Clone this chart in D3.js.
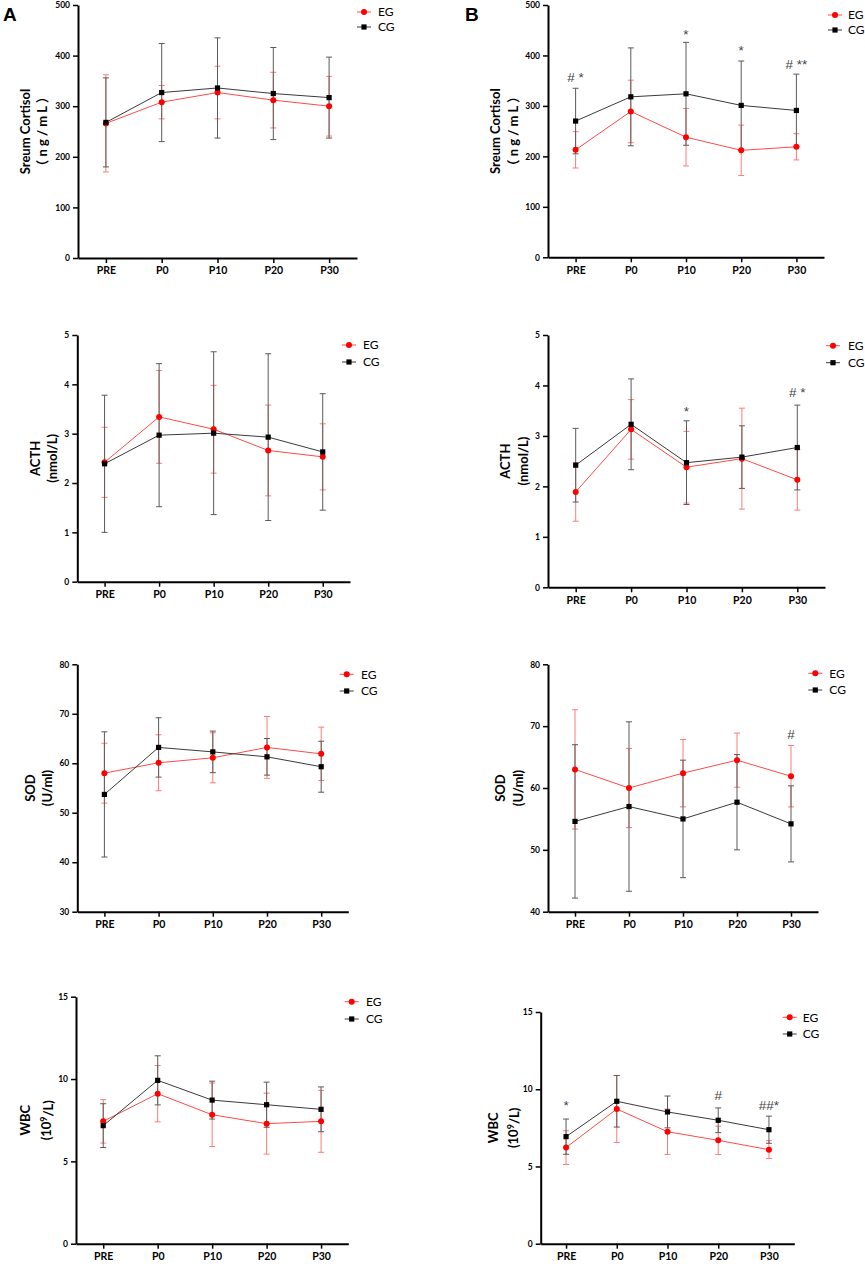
<!DOCTYPE html>
<html>
<head>
<meta charset="utf-8">
<script src="https://cdn.jsdelivr.net/npm/d3@7"></script>
<style>
  body { margin: 0; background: #fff; }
  svg { display: block; }
  .tick text { font-family: Lato, "Noto Sans", sans-serif; font-weight: bold; fill: #000; }
  .axis path, .axis line { stroke: #000; }
</style>
</head>
<body>
<svg id="chart" width="865" height="1264"></svg>
<script>
// time points and groups
var timePoints = ["PRE", "P0", "P10", "P20", "P30"];
var groupNames = ["EG", "CG"];

// serum cortisol (ng/mL), mean and SD
var cortisolA_EG = [266, 308, 327, 312, 300];
var cortisolA_EG_sd = [96, 33, 52, 55, 59];
var cortisolA_CG = [268, 327, 336, 325, 317];
var cortisolA_CG_sd = [88, 97, 99, 91, 80];
var cortisolB_EG = [213, 289, 238, 212, 219];
var cortisolB_EG_sd = [36, 62, 57, 50, 26];
var cortisolB_CG = [270, 318, 324, 301, 291];
var cortisolB_CG_sd = [65, 97, 102, 88, 72];

// ACTH (nmol/L)
var acthA_EG = [2.42, 3.34, 3.09, 2.66, 2.53];
var acthA_EG_sd = [0.71, 0.94, 0.89, 0.92, 0.67];
var acthA_CG = [2.39, 2.97, 3.01, 2.93, 2.63];
var acthA_CG_sd = [1.39, 1.45, 1.65, 1.69, 1.18];
var acthB_EG = [1.89, 3.13, 2.38, 2.55, 2.13];
var acthB_EG_sd = [0.58, 0.59, 0.71, 1.0, 0.6];
var acthB_CG = [2.42, 3.23, 2.47, 2.58, 2.77];
var acthB_CG_sd = [0.73, 0.9, 0.83, 0.62, 0.84];

// SOD (U/ml)
var sodA_EG = [58.0, 60.1, 61.1, 63.2, 61.9];
var sodA_EG_sd = [6.05, 5.65, 5.05, 6.25, 5.4];
var sodA_CG = [53.7, 63.2, 62.3, 61.3, 59.3];
var sodA_CG_sd = [12.65, 6.0, 4.2, 3.7, 5.15];
var sodB_EG = [63.0, 60.0, 62.4, 64.5, 61.9];
var sodB_EG_sd = [9.65, 6.4, 5.45, 4.37, 4.96];
var sodB_CG = [54.6, 57.0, 55.0, 57.7, 54.2];
var sodB_CG_sd = [12.4, 13.7, 9.5, 7.7, 6.15];

// WBC (10^9/L)
var wbcA_EG = [7.43, 9.11, 7.83, 7.29, 7.43];
var wbcA_EG_sd = [1.32, 1.71, 1.93, 1.85, 1.88];
var wbcA_CG = [7.17, 9.92, 8.72, 8.44, 8.16];
var wbcA_CG_sd = [1.33, 1.49, 1.15, 1.37, 1.36];
var wbcB_EG = [6.22, 8.72, 7.25, 6.69, 6.09];
var wbcB_EG_sd = [1.09, 2.17, 1.47, 0.92, 0.58];
var wbcB_CG = [6.93, 9.22, 8.53, 7.99, 7.38];
var wbcB_CG_sd = [1.14, 1.67, 1.03, 0.8, 0.88];

// significance marks: [time point, label, value where the mark sits]
var cortisolB_marks = [["PRE", "# *", 358], ["P10", "*", 444], ["P20", "*", 411], ["P30", "# **", 383]];
var acthB_marks = [["P10", "*", 3.5], ["P30", "# *", 3.88]];
var sodB_marks = [["P30", "#", 68.8]];
var wbcB_marks = [["PRE", "*", 9.0], ["P20", "#", 9.63], ["P30", "##*", 8.98]];

// y axis ticks
var cortisolTicks = [0, 100, 200, 300, 400, 500];
var acthTicks = [0, 1, 2, 3, 4, 5];
var sodTicksA = [30, 40, 50, 60, 70, 80];
var sodTicksB = [40, 50, 60, 70, 80];
var wbcTicks = [0, 5, 10, 15];

var cortisolTitle = ["Sreum Cortisol", "（ n g / m L ）"];
var acthTitle = ["ACTH", "(nmol/L)"];
var sodTitle = ["SOD", "(U/ml)"];
var wbcTitle = ["WBC", "(10", "9", "/L)"];

var red = "#ff0000";
var black = "#000000";

var svg = d3.select("#chart");

// panel layouts (pixel boxes), data looked up from arrays above
var panels = [
    {x0: 78, x1: 357, top: 5, bottom: 258, ticks: cortisolTicks, title: cortisolTitle, t1: 25, t2: 42,
     eg: cortisolA_EG, egSd: cortisolA_EG_sd, cg: cortisolA_CG, cgSd: cortisolA_CG_sd, marks: [], leg: [364, 12, 27, 378]},
    {x0: 548, x1: 824, top: 5, bottom: 257.3, ticks: cortisolTicks, title: cortisolTitle, t1: 495, t2: 513,
     eg: cortisolB_EG, egSd: cortisolB_EG_sd, cg: cortisolB_CG, cgSd: cortisolB_CG_sd, marks: cortisolB_marks, leg: [835, 15, 30, 848]},
    {x0: 77.3, x1: 350, top: 335, bottom: 581.7, ticks: acthTicks, title: acthTitle, t1: 35, t2: 52.7,
     eg: acthA_EG, egSd: acthA_EG_sd, cg: acthA_CG, cgSd: acthA_CG_sd, marks: [], leg: [349, 345, 362, 363]},
    {x0: 548, x1: 825, top: 335, bottom: 587.3, ticks: acthTicks, title: acthTitle, t1: 505, t2: 523,
     eg: acthB_EG, egSd: acthB_EG_sd, cg: acthB_CG, cgSd: acthB_CG_sd, marks: acthB_marks, leg: [833, 345.7, 362.7, 848]},
    {x0: 77.3, x1: 348.3, top: 664.3, bottom: 911.7, ticks: sodTicksA, title: sodTitle, t1: 30, t2: 47.7,
     eg: sodA_EG, egSd: sodA_EG_sd, cg: sodA_CG, cgSd: sodA_CG_sd, marks: [], leg: [346.7, 674.3, 691, 361]},
    {x0: 548, x1: 818, top: 664.3, bottom: 911.7, ticks: sodTicksB, title: sodTitle, t1: 500.3, t2: 518.7,
     eg: sodB_EG, egSd: sodB_EG_sd, cg: sodB_CG, cgSd: sodB_CG_sd, marks: sodB_marks, leg: [815.3, 673.3, 690, 829.3]},
    {x0: 76, x1: 348.3, top: 996.7, bottom: 1243.7, ticks: wbcTicks, title: wbcTitle, t1: 25, t2: 46.7,
     eg: wbcA_EG, egSd: wbcA_EG_sd, cg: wbcA_CG, cgSd: wbcA_CG_sd, marks: [], leg: [351.7, 1001.7, 1019, 366]},
    {x0: 540.7, x1: 794.3, top: 1012, bottom: 1243.7, ticks: wbcTicks, title: wbcTitle, t1: 493, t2: 513,
     eg: wbcB_EG, egSd: wbcB_EG_sd, cg: wbcB_CG, cgSd: wbcB_CG_sd, marks: wbcB_marks, leg: [789.7, 1017.3, 1034, 802.7]}
];

function drawPanel(p) {
    var g = svg.append("g");
    var x = d3.scalePoint().domain(timePoints).range([p.x0, p.x1]).padding(0.5);
    var y = d3.scaleLinear().domain(d3.extent(p.ticks)).range([p.bottom, p.top]);

    // axes
    var yAxis = g.append("g").attr("class", "axis")
        .attr("transform", "translate(" + p.x0 + ",0)")
        .call(d3.axisLeft(y).tickValues(p.ticks).tickFormat(d3.format("d"))
            .tickSize(5).tickSizeOuter(0).tickPadding(3));
    yAxis.selectAll("text").style("font-size", "8.5px");
    yAxis.select(".domain").attr("stroke-width", 2);
    yAxis.selectAll(".tick line").attr("stroke-width", 1.5);

    var xAxis = g.append("g").attr("class", "axis")
        .attr("transform", "translate(0," + p.bottom + ")")
        .call(d3.axisBottom(x).tickSize(5).tickSizeOuter(0).tickPadding(4));
    xAxis.selectAll("text").style("font-size", "10.5px");
    xAxis.select(".domain").attr("stroke-width", 2);
    xAxis.selectAll(".tick line").attr("stroke-width", 1.5);

    // y title
    var cy = (p.top + p.bottom) / 2;
    g.append("text")
        .attr("transform", "translate(" + p.t1 + "," + cy + ") rotate(-90)")
        .attr("text-anchor", "middle").attr("dy", "0.36em")
        .style("font-family", "Lato, 'Noto Sans', sans-serif").style("font-weight", "bold").style("font-size", "13px")
        .text(p.title[0]);
    var t2 = g.append("text")
        .attr("transform", "translate(" + p.t2 + "," + cy + ") rotate(-90)")
        .attr("text-anchor", "middle").attr("dy", "0.36em")
        .style("font-family", "Lato, 'Noto Sans CJK SC', sans-serif").style("font-weight", "bold").style("font-size", "13px");
    if (p.title.length > 2) {
        t2.append("tspan").text(p.title[1]);
        t2.append("tspan").attr("dy", "-0.45em").style("font-size", "9px").text(p.title[2]);
        t2.append("tspan").attr("dy", "0.45em").text(p.title[3]);
    } else {
        t2.text(p.title[1]);
    }

    var series = [
        {name: groupNames[0], mean: p.eg, sd: p.egSd, color: red, line: "#ff4a4a", err: "#ff7a7a"},
        {name: groupNames[1], mean: p.cg, sd: p.cgSd, color: black, line: "#3a3a3a", err: "#5a5a5a"}
    ];

    // error bars
    series.forEach(function (s) {
        var eb = g.append("g").attr("stroke", s.err).attr("stroke-width", 1).attr("fill", "none");
        timePoints.forEach(function (t, i) {
            var cx = x(t);
            var yHi = y(s.mean[i] + s.sd[i]);
            var yLo = y(s.mean[i] - s.sd[i]);
            eb.append("line").attr("x1", cx).attr("x2", cx).attr("y1", yHi).attr("y2", yLo);
            eb.append("line").attr("x1", cx - 3).attr("x2", cx + 3).attr("y1", yHi).attr("y2", yHi);
            eb.append("line").attr("x1", cx - 3).attr("x2", cx + 3).attr("y1", yLo).attr("y2", yLo);
        });
    });

    // connecting lines
    var line = d3.line().x(function (d, i) { return x(timePoints[i]); }).y(function (d) { return y(d); });
    series.forEach(function (s) {
        g.append("path").datum(s.mean).attr("d", line)
            .attr("fill", "none").attr("stroke", s.line).attr("stroke-width", 1);
    });

    // markers
    g.selectAll(".eg-dot").data(p.eg).enter().append("circle")
        .attr("cx", function (d, i) { return x(timePoints[i]); })
        .attr("cy", function (d) { return y(d); })
        .attr("r", 3).attr("fill", red);
    g.selectAll(".cg-sq").data(p.cg).enter().append("rect")
        .attr("x", function (d, i) { return x(timePoints[i]) - 2.6; })
        .attr("y", function (d) { return y(d) - 2.6; })
        .attr("width", 5.2).attr("height", 5.2).attr("fill", black);

    // significance marks
    p.marks.forEach(function (m) {
        g.append("text")
            .attr("x", x(m[0])).attr("y", y(m[2]))
            .attr("text-anchor", "middle").attr("dy", "0.4em")
            .style("font-family", "'Liberation Sans', Arial, sans-serif").style("font-size", "13.5px")
            .attr("fill", "#444").text(m[1]);
    });

    // legend
    var lx = p.leg[0];
    [p.leg[1], p.leg[2]].forEach(function (ly, k) {
        var s = series[k];
        g.append("line").attr("x1", lx - 7).attr("x2", lx + 7).attr("y1", ly).attr("y2", ly)
            .attr("stroke", s.line).attr("stroke-width", 1);
        if (k === 0) {
            g.append("circle").attr("cx", lx).attr("cy", ly).attr("r", 3).attr("fill", red);
        } else {
            g.append("rect").attr("x", lx - 2.6).attr("y", ly - 2.6).attr("width", 5.2).attr("height", 5.2).attr("fill", black);
        }
        g.append("text").attr("x", p.leg[3]).attr("y", ly).attr("dy", "0.36em")
            .style("font-family", "Lato, 'Noto Sans', sans-serif").style("font-size", "12px")
            .text(s.name);
    });
}

panels.forEach(drawPanel);

// panel letters
svg.append("text").attr("x", 3).attr("y", 21)
    .style("font-family", "'Liberation Sans', Arial, sans-serif").style("font-weight", "bold").style("font-size", "19px")
    .text("A");
svg.append("text").attr("x", 465).attr("y", 21)
    .style("font-family", "'Liberation Sans', Arial, sans-serif").style("font-weight", "bold").style("font-size", "19px")
    .text("B");
</script>
</body>
</html>
